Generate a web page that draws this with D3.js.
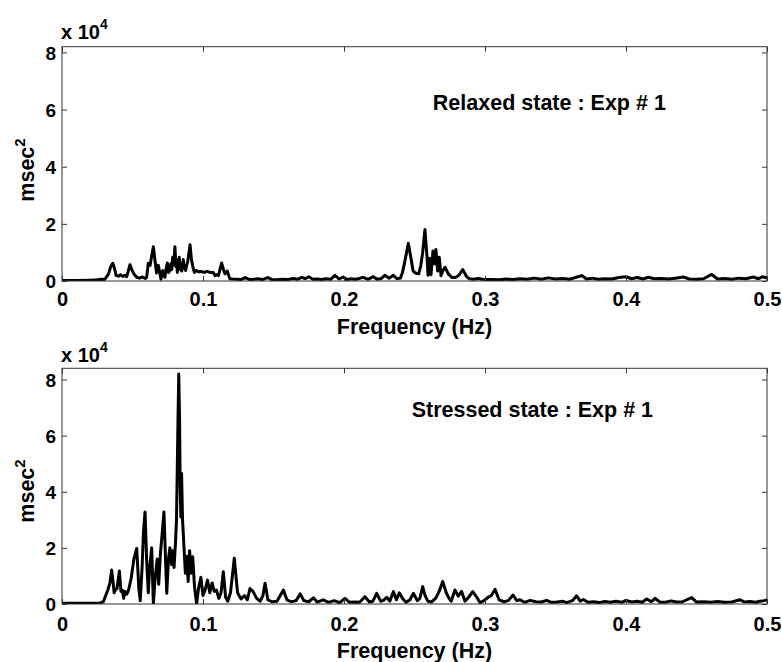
<!DOCTYPE html>
<html>
<head>
<meta charset="utf-8">
<script src="https://cdn.jsdelivr.net/npm/d3@7"></script>
<style>
  html, body { margin: 0; padding: 0; background: #fff; }
  svg { display: block; }
  text { font-family: "Liberation Sans", Arial, sans-serif; font-weight: bold; fill: #000; }
</style>
</head>
<body>
<svg id="chart" width="782" height="662"></svg>
<script>
// ---------- data (values in units of 1e4 msec^2) ----------
const xTicks = [0, 0.1, 0.2, 0.3, 0.4, 0.5];
const xTickLabels = ["0", "0.1", "0.2", "0.3", "0.4", "0.5"];
const yTicks = [0, 2, 4, 6, 8];
const yTickLabels = ["0", "2", "4", "6", "8"];

const relaxedFreq = [0,0.01,0.02,0.025,0.028,0.030,0.031,0.033,0.0345,0.036,0.0372,0.0383,0.040,0.0415,0.043,0.0445,0.0459,0.047,0.0482,0.0495,0.051,0.053,0.055,0.057,0.059,0.060,0.0612,0.0625,0.0637,0.0648,0.066,0.0671,0.0683,0.0693,0.0702,0.0714,0.0722,0.073,0.0739,0.0747,0.0756,0.0766,0.0772,0.0778,0.0785,0.0792,0.0801,0.0808,0.0813,0.0818,0.0825,0.0832,0.0838,0.0843,0.0849,0.0855,0.086,0.0866,0.0872,0.0877,0.0884,0.0891,0.0898,0.0908,0.0918,0.0931,0.094,0.095,0.097,0.099,0.101,0.103,0.105,0.1073,0.1085,0.1097,0.1109,0.112,0.1132,0.1145,0.1156,0.1172,0.1185,0.1191,0.121,0.1239,0.127,0.130,0.133,0.136,0.139,0.142,0.146,0.149,0.152,0.156,0.160,0.164,0.167,0.170,0.1725,0.175,0.178,0.181,0.184,0.187,0.1905,0.1936,0.1965,0.1995,0.202,0.205,0.208,0.211,0.2137,0.217,0.2208,0.2235,0.2265,0.229,0.232,0.235,0.2375,0.240,0.2415,0.2433,0.2456,0.2475,0.249,0.251,0.253,0.2545,0.2558,0.2574,0.2588,0.2596,0.2607,0.2617,0.2631,0.2642,0.2652,0.2664,0.2676,0.2688,0.2700,0.2716,0.274,0.2765,0.279,0.2815,0.2842,0.287,0.289,0.292,0.295,0.298,0.301,0.305,0.31,0.315,0.32,0.325,0.33,0.335,0.34,0.345,0.35,0.355,0.36,0.3686,0.372,0.376,0.38,0.385,0.39,0.395,0.40,0.404,0.408,0.412,0.416,0.42,0.425,0.43,0.435,0.4407,0.445,0.45,0.455,0.4607,0.465,0.47,0.475,0.48,0.485,0.4903,0.494,0.497,0.5];
const relaxedPSD = [0.02,0.02,0.03,0.04,0.06,0.05,0.1,0.25,0.5,0.62,0.45,0.2,0.17,0.22,0.16,0.2,0.15,0.35,0.57,0.4,0.25,0.13,0.1,0.14,0.09,0.12,0.62,0.55,0.9,1.2,0.7,0.28,0.55,0.3,0.06,0.37,0.2,0.13,0.45,0.63,0.3,0.37,0.6,0.4,0.83,0.55,1.2,0.5,0.75,0.3,0.65,0.83,0.4,0.6,0.35,0.55,0.75,0.45,0.5,0.37,0.55,0.66,0.9,1.27,0.75,0.43,0.3,0.37,0.32,0.33,0.3,0.34,0.3,0.3,0.19,0.22,0.19,0.4,0.63,0.4,0.25,0.35,0.15,0.08,0.07,0.06,0.05,0.12,0.05,0.06,0.08,0.05,0.12,0.05,0.04,0.06,0.05,0.09,0.06,0.13,0.08,0.15,0.06,0.07,0.05,0.08,0.06,0.2,0.07,0.14,0.05,0.08,0.06,0.09,0.13,0.06,0.15,0.06,0.09,0.2,0.1,0.2,0.08,0.1,0.3,0.72,1.32,0.8,0.35,0.27,0.25,0.55,1.0,1.8,0.9,0.2,0.8,0.22,1.05,0.6,1.1,0.35,0.83,0.18,0.35,0.48,0.25,0.12,0.12,0.2,0.4,0.15,0.08,0.06,0.09,0.06,0.05,0.05,0.04,0.07,0.05,0.08,0.06,0.1,0.06,0.11,0.07,0.09,0.06,0.19,0.07,0.1,0.06,0.08,0.07,0.12,0.15,0.08,0.12,0.07,0.13,0.08,0.09,0.07,0.1,0.14,0.07,0.06,0.08,0.23,0.07,0.09,0.06,0.1,0.08,0.14,0.08,0.15,0.1];

const stressedFreq = [0,0.01,0.02,0.027,0.0293,0.031,0.0325,0.034,0.0352,0.0362,0.037,0.0378,0.039,0.0407,0.0418,0.0428,0.0437,0.0447,0.046,0.0472,0.049,0.051,0.053,0.0545,0.0555,0.0568,0.0578,0.0589,0.06,0.0612,0.0622,0.0636,0.0648,0.066,0.0675,0.0686,0.0698,0.0712,0.0723,0.0735,0.0743,0.0755,0.0765,0.0777,0.0785,0.0795,0.0805,0.0812,0.0821,0.0828,0.0834,0.0838,0.0843,0.0848,0.0855,0.0865,0.0875,0.0885,0.0895,0.0905,0.0915,0.0927,0.094,0.0955,0.0968,0.0985,0.1,0.1015,0.1032,0.1048,0.1065,0.108,0.1095,0.1112,0.1128,0.1144,0.116,0.1175,0.1195,0.1222,0.1245,0.127,0.1295,0.1315,0.1333,0.1355,0.138,0.1405,0.1425,0.144,0.146,0.149,0.1525,0.1548,0.157,0.1595,0.1625,0.166,0.169,0.1715,0.175,0.1783,0.181,0.1853,0.189,0.193,0.197,0.2007,0.204,0.208,0.211,0.2149,0.218,0.2205,0.2232,0.226,0.228,0.2303,0.2325,0.235,0.2372,0.2392,0.2415,0.2440,0.2468,0.2492,0.252,0.2538,0.2558,0.2575,0.2595,0.262,0.2652,0.2675,0.27,0.2725,0.2745,0.276,0.2787,0.281,0.2834,0.2858,0.2885,0.2913,0.294,0.2965,0.2993,0.3025,0.3045,0.3071,0.310,0.3135,0.3165,0.3199,0.3225,0.3248,0.328,0.332,0.336,0.34,0.3437,0.347,0.351,0.355,0.358,0.362,0.365,0.3675,0.3698,0.373,0.377,0.381,0.385,0.389,0.393,0.397,0.4,0.404,0.408,0.4115,0.4147,0.418,0.4206,0.424,0.428,0.432,0.436,0.44,0.4466,0.45,0.455,0.46,0.465,0.47,0.475,0.4809,0.484,0.488,0.492,0.495,0.498,0.5];
const stressedPSD = [0.03,0.03,0.03,0.04,0.08,0.3,0.5,0.75,1.21,0.8,0.4,0.5,0.55,1.18,0.45,0.5,0.2,0.45,0.35,0.5,0.9,1.6,1.98,0.55,0.12,1.3,2.6,3.28,1.6,0.4,1.3,2.0,0.0,0.9,1.6,0.7,1.8,2.6,3.28,1.5,0.38,1.6,2.0,1.4,1.9,1.3,2.2,3.0,6.0,8.2,6.5,4.2,3.1,4.65,3.0,2.04,1.1,1.7,0.8,1.9,1.1,1.68,0.6,0.0,0.55,0.95,0.3,0.5,0.85,0.4,0.75,0.45,0.5,0.2,0.4,1.15,0.25,0.1,0.4,1.63,0.4,0.18,0.3,0.15,0.55,0.45,0.2,0.1,0.3,0.74,0.15,0.08,0.1,0.3,0.5,0.15,0.08,0.12,0.36,0.12,0.08,0.22,0.07,0.15,0.06,0.12,0.05,0.2,0.06,0.07,0.06,0.26,0.07,0.1,0.38,0.1,0.13,0.24,0.1,0.44,0.15,0.4,0.2,0.06,0.15,0.38,0.12,0.2,0.62,0.3,0.1,0.07,0.22,0.45,0.8,0.4,0.2,0.1,0.5,0.28,0.45,0.1,0.25,0.44,0.25,0.05,0.12,0.25,0.3,0.52,0.15,0.08,0.12,0.32,0.12,0.15,0.06,0.13,0.08,0.07,0.13,0.06,0.07,0.1,0.05,0.12,0.29,0.1,0.16,0.06,0.08,0.05,0.09,0.06,0.1,0.06,0.13,0.07,0.1,0.06,0.18,0.08,0.2,0.07,0.06,0.11,0.07,0.08,0.23,0.07,0.08,0.06,0.09,0.06,0.07,0.15,0.07,0.09,0.06,0.1,0.12,0.14];

const panelTitles = ["Relaxed state : Exp # 1", "Stressed state : Exp # 1"];
const panelTitlePos = [[0.263, 6.0], [0.248, 6.67]];   // data coords of title baseline start
const yMax = [8.2, 8.4];

// ---------- layout ----------
const svg = d3.select("#chart");
const panels = [
  { freq: relaxedFreq, psd: relaxedPSD, left: 62, right: 767, top: 46.7, bottom: 281, ymax: yMax[0], title: panelTitles[0], tpos: panelTitlePos[0], xtickBase: 305.5, xlabBase: 333.5, exp: 39, ylabY: 170 },
  { freq: stressedFreq, psd: stressedPSD, left: 62, right: 767, top: 368.3, bottom: 604, ymax: yMax[1], title: panelTitles[1], tpos: panelTitlePos[1], xtickBase: 630.5, xlabBase: 658, exp: 361.5, ylabY: 491 }
];

panels.forEach((p, i) => {
  const x = d3.scaleLinear().domain([0, 0.5]).range([p.left, p.right]);
  const y = d3.scaleLinear().domain([0, p.ymax]).range([p.bottom, p.top]);
  const g = svg.append("g");

  const clipId = "clip" + i;
  svg.append("clipPath").attr("id", clipId).append("rect")
    .attr("x", p.left).attr("y", p.top - 2).attr("width", p.right - p.left).attr("height", p.bottom - p.top + 2);

  // data line
  const pts = p.freq.map((f, k) => [f, p.psd[k]]);
  g.append("path")
    .datum(pts)
    .attr("clip-path", `url(#${clipId})`)
    .attr("fill", "none")
    .attr("stroke", "#000")
    .attr("stroke-width", 3)
    .attr("stroke-linejoin", "round")
    .attr("d", d3.line().x(d => x(d[0])).y(d => y(d[1])));

  // frame
  g.append("rect")
    .attr("x", p.left).attr("y", p.top)
    .attr("width", p.right - p.left).attr("height", p.bottom - p.top)
    .attr("fill", "none").attr("stroke", "#333").attr("stroke-width", 1);

  // axes (ticks pointing inward on all four sides)
  const axB = g.append("g").attr("transform", `translate(0,${p.bottom})`)
    .call(d3.axisBottom(x).tickValues(xTicks).tickSizeInner(-5).tickSizeOuter(0).tickFormat((d, k) => xTickLabels[k]));
  const axT = g.append("g").attr("transform", `translate(0,${p.top})`)
    .call(d3.axisTop(x).tickValues(xTicks).tickSizeInner(-5).tickSizeOuter(0).tickFormat(""));
  const axL = g.append("g").attr("transform", `translate(${p.left},0)`)
    .call(d3.axisLeft(y).tickValues(yTicks).tickSizeInner(-5).tickSizeOuter(0).tickFormat((d, k) => yTickLabels[k]));
  const axR = g.append("g").attr("transform", `translate(${p.right},0)`)
    .call(d3.axisRight(y).tickValues(yTicks).tickSizeInner(-5).tickSizeOuter(0).tickFormat(""));
  [axB, axT, axL, axR].forEach(a => {
    a.select(".domain").remove();
    a.selectAll(".tick line").attr("stroke", "#333").attr("stroke-width", 1);
    a.attr("font-family", null).attr("font-size", null);
  });
  axB.selectAll(".tick text")
    .attr("dy", null)
    .attr("y", p.xtickBase - p.bottom)
    .style("font-size", "20px");
  axL.selectAll(".tick text")
    .attr("x", -6).attr("dy", "0.35em")
    .style("font-size", "19px");

  // x label
  g.append("text")
    .attr("x", (p.left + p.right) / 2).attr("y", p.xlabBase)
    .attr("text-anchor", "middle").style("font-size", "21.5px")
    .text("Frequency (Hz)");

  // y label msec^2
  const yl = g.append("text")
    .attr("transform", `translate(34,${p.ylabY}) rotate(-90)`)
    .attr("text-anchor", "middle").style("font-size", "21.5px");
  yl.append("tspan").text("msec");
  yl.append("tspan").attr("dy", -9).style("font-size", "15px").text("2");

  // exponent x 10^4
  const ex = g.append("text").attr("x", 61).attr("y", p.exp).style("font-size", "20px");
  ex.append("tspan").text("x 10");
  ex.append("tspan").attr("dy", -10).style("font-size", "14px").text("4");

  // annotation
  g.append("text")
    .attr("x", x(p.tpos[0])).attr("y", y(p.tpos[1]))
    .style("font-size", "21.5px")
    .text(p.title);
});
</script>
</body>
</html>
